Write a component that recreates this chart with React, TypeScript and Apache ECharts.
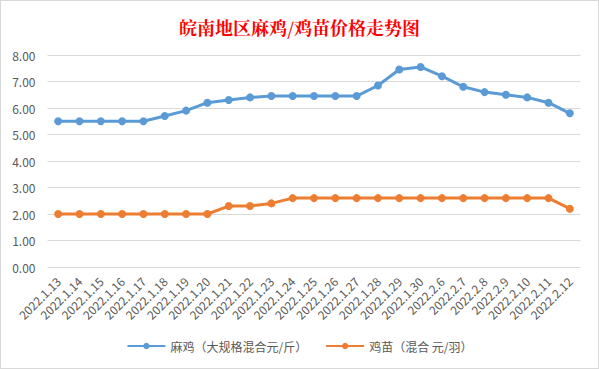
import React, { useEffect, useRef } from "react";
import * as echarts from "echarts";

const categories = [
  "2022.1.13", "2022.1.14", "2022.1.15", "2022.1.16", "2022.1.17", "2022.1.18",
  "2022.1.19", "2022.1.20", "2022.1.21", "2022.1.22", "2022.1.23", "2022.1.24",
  "2022.1.25", "2022.1.26", "2022.1.27", "2022.1.28", "2022.1.29", "2022.1.30",
  "2022.2.6", "2022.2.7", "2022.2.8", "2022.2.9", "2022.2.10", "2022.2.11", "2022.2.12",
];
const majiName = "麻鸡（大规格混合元/斤）";
const majiValues = [
  5.5, 5.5, 5.5, 5.5, 5.5, 5.7, 5.9, 6.2, 6.3, 6.4, 6.45, 6.45, 6.45, 6.45, 6.45,
  6.85, 7.45, 7.55, 7.2, 6.8, 6.6, 6.5, 6.4, 6.2, 5.8,
];
const jimiaoName = "鸡苗（混合 元/羽）";
const jimiaoValues = [
  2.0, 2.0, 2.0, 2.0, 2.0, 2.0, 2.0, 2.0, 2.3, 2.3, 2.4, 2.6, 2.6, 2.6, 2.6,
  2.6, 2.6, 2.6, 2.6, 2.6, 2.6, 2.6, 2.6, 2.6, 2.2,
];

export default function App() {
  const ref = useRef<HTMLDivElement>(null);
  useEffect(() => {
    if (!ref.current) return;
    const chart = echarts.init(ref.current, null, { renderer: "svg" });
    const font = "'Microsoft YaHei', 'Noto Sans CJK SC', sans-serif";
    chart.setOption({
      animation: false,
      backgroundColor: "#ffffff",
      title: {
        text: "皖南地区麻鸡/鸡苗价格走势图",
        left: "center",
        top: 12,
        textStyle: {
          color: "#ff0000",
          fontSize: 18,
          fontWeight: "bold",
          fontFamily: "'Noto Serif CJK SC', 'Noto Sans CJK SC', serif",
        },
      },
      legend: {
        bottom: 11,
        left: "center",
        itemWidth: 38,
        itemHeight: 8,
        itemGap: 18,
        textStyle: { color: "#595959", fontSize: 12, fontFamily: font },
        data: [majiName, jimiaoName],
      },
      grid: { left: 46.5, right: 17.5, top: 54, bottom: 101 },
      xAxis: {
        type: "category",
        data: categories,
        boundaryGap: true,
        axisLine: { show: false },
        axisTick: { show: false },
        axisLabel: {
          rotate: 45,
          interval: 0,
          color: "#595959",
          fontSize: 12,
          margin: 12,
          fontFamily: font,
        },
      },
      yAxis: {
        type: "value",
        min: 0,
        max: 8,
        interval: 1,
        axisLine: { show: false },
        axisTick: { show: false },
        splitLine: { lineStyle: { color: "#d9d9d9", width: 1 } },
        axisLabel: {
          color: "#595959",
          fontSize: 12,
          margin: 12,
          formatter: (v: number) => v.toFixed(2),
          fontFamily: font,
        },
      },
      series: [
        {
          name: majiName,
          type: "line",
          data: majiValues,
          symbol: "circle",
          symbolSize: 8,
          itemStyle: { color: "#5b9bd5" },
          lineStyle: { color: "#5b9bd5", width: 3 },
        },
        {
          name: jimiaoName,
          type: "line",
          data: jimiaoValues,
          symbol: "circle",
          symbolSize: 8,
          itemStyle: { color: "#ed7d31" },
          lineStyle: { color: "#ed7d31", width: 3 },
        },
      ],
    });
    return () => chart.dispose();
  }, []);
  return (
    <div
      ref={ref}
      style={{
        position: "absolute",
        left: 0,
        top: 0,
        width: 599,
        height: 369,
        boxSizing: "border-box",
        border: "1px solid #d9d9d9",
      }}
    />
  );
}
